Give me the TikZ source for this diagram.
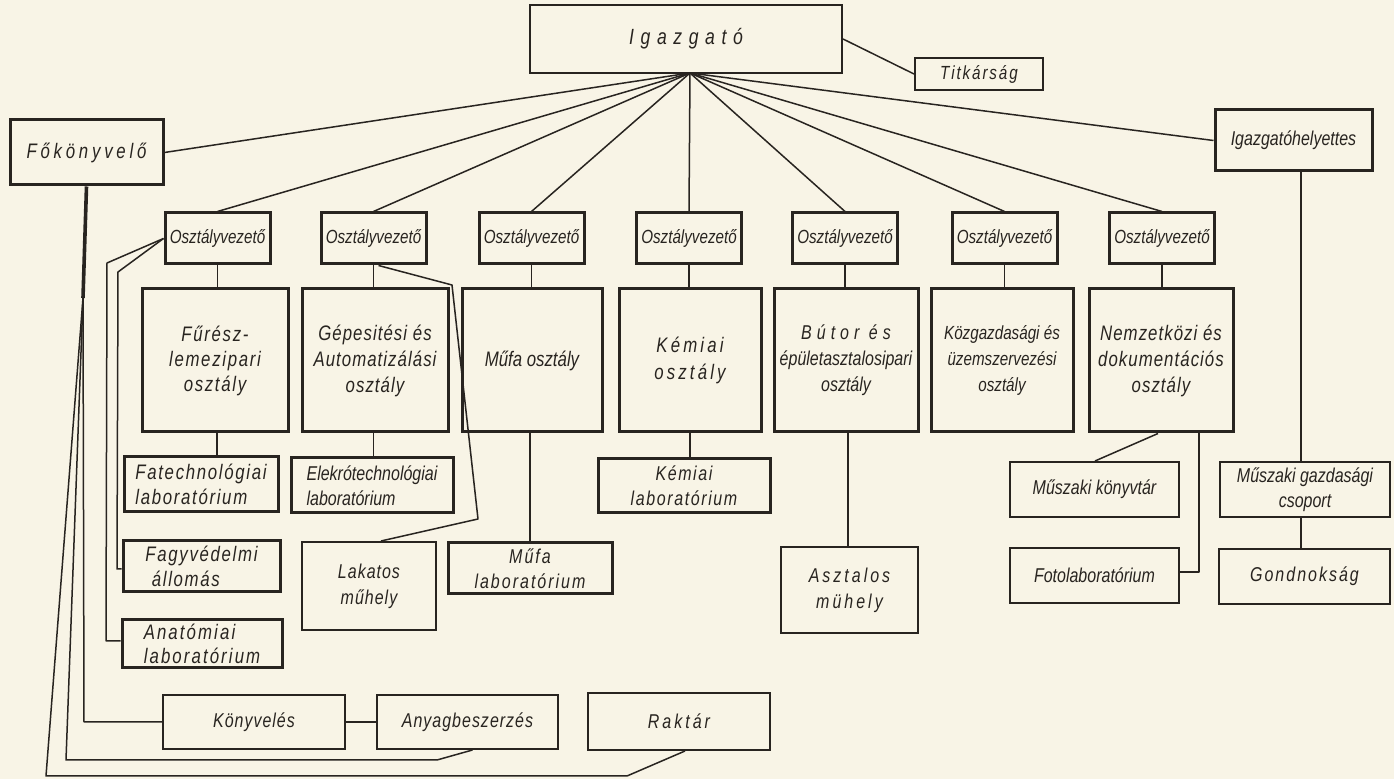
\documentclass[tikz,border=0pt]{standalone}
\usepackage{fontspec}
\setmainfont{Liberation Sans}[FakeStretch=0.8]
\usetikzlibrary{calc}
\definecolor{paper}{RGB}{248,244,230}
\definecolor{ink}{RGB}{40,36,32}
\newcommand{\lsp}[1]{\addfontfeature{LetterSpace=#1}}
\tikzset{
  conn/.style={draw=ink, line width=0.75pt, line join=round},
  boxA/.style={draw=ink, line width=1.5pt, inner sep=1pt, align=center, text=ink, font=\itshape\fontsize{10}{12.5}\selectfont},
  boxB/.style={boxA, line width=1pt},
  ovbox/.style={boxA, inner sep=0.5pt, minimum width=52.5pt, minimum height=25.5pt, font=\itshape\fontsize{9.5}{11}\selectfont},
  deptbox/.style={boxA, minimum height=71.5pt, font=\itshape\fontsize{10.5}{13}\selectfont},
}
\begin{document}
\begin{tikzpicture}[x=0.5pt,y=-0.5pt]
\useasboundingbox (0,0) rectangle (1394,779);
\fill[paper] (0,0) rectangle (1394,779);

% top level
\node[boxB, minimum width=156pt, minimum height=34pt, font=\itshape\fontsize{11}{13}\selectfont\lsp{30}] (igaz) at (686,39) {Igazgató};
\node[boxB, minimum width=64pt, minimum height=16pt, font=\itshape\fontsize{9.5}{11}\selectfont\lsp{10}] (titk) at (979,74) {Titkárság};
\node[boxA, minimum width=76.5pt, minimum height=32.5pt, font=\itshape\fontsize{10.5}{12}\selectfont\lsp{18}] (fokony) at (86.5,152.5) {Főkönyvelő};
\node[boxA, minimum width=78.5pt, minimum height=30.5pt] (ighely) at (1293.5,140.5) {Igazgatóhelyettes};

% Osztályvezető row
\node[ovbox] (ov1) at (217.5,238.5) {Osztályvezető};
\node[ovbox] (ov2) at (373.5,238.5) {Osztályvezető};
\node[ovbox] (ov3) at (531.5,238.5) {Osztályvezető};
\node[ovbox] (ov4) at (689,238.5) {Osztályvezető};
\node[ovbox] (ov5) at (845,238.5) {Osztályvezető};
\node[ovbox] (ov6) at (1004.5,238.5) {Osztályvezető};
\node[ovbox] (ov7) at (1162,238.5) {Osztályvezető};

% departments
\node[deptbox, minimum width=73pt, font=\itshape\fontsize{10.5}{12.5}\selectfont\lsp{8}] (d1) at (215,360.5) {Fűrész-\\lemezipari\\osztály};
\node[deptbox, minimum width=73pt, font=\itshape\fontsize{10.5}{13}\selectfont\lsp{5}] (d2) at (375,360.5) {Gépesitési és\\Automatizálási\\osztály};
\node[deptbox, minimum width=70pt] (d3) at (532,360.5) {Műfa osztály};
\node[deptbox, minimum width=71pt, font=\itshape\fontsize{10.5}{13.5}\selectfont\lsp{15}] (d4) at (690,360.5) {Kémiai\\osztály};
\node[deptbox, minimum width=72pt, font=\itshape\fontsize{10}{13}\selectfont] (d5) at (846,360.5) {{\lsp{25}Bútor és}\\épületasztalosipari\\osztály};
\node[deptbox, minimum width=71pt, font=\itshape\fontsize{9.5}{13}\selectfont] (d6) at (1002,360.5) {Közgazdasági és\\üzemszervezési\\osztály};
\node[deptbox, minimum width=72pt, font=\itshape\fontsize{10.5}{13}\selectfont\lsp{5}] (d7) at (1161,360.5) {Nemzetközi és\\dokumentációs\\osztály};

% labs row
\node[boxA, minimum width=77pt, minimum height=27.5pt, align=left, font=\itshape\fontsize{10.5}{12.5}\selectfont\lsp{8}] (fatech) at (201,484.5) {Fatechnológiai\\laboratórium};
\node[boxA, minimum width=81pt, minimum height=27.5pt, align=left, font=\itshape\fontsize{10}{12.5}\selectfont] (elek) at (372,485.5) {Elekrótechnológiai\\laboratórium};
\node[boxA, minimum width=86pt, minimum height=27pt, font=\itshape\fontsize{10}{12.5}\selectfont\lsp{8}] (kemlab) at (684,486) {Kémiai\\laboratórium};
\node[boxB, minimum width=84.5pt, minimum height=27.5pt] (muszkony) at (1094.5,489.5) {Műszaki könyvtár};
\node[boxB, minimum width=85pt, minimum height=27.5pt] (muszgaz) at (1305,489.5) {Műszaki gazdasági\\csoport};

% row 4
\node[boxA, minimum width=78.5pt, minimum height=25.5pt, align=left, font=\itshape\fontsize{10.5}{12.5}\selectfont\lsp{8}] (fagy) at (201.5,566.5) {Fagyvédelmi\\\ állomás};
\node[boxB, minimum width=67pt, minimum height=44pt, font=\itshape\fontsize{10}{13}\selectfont\lsp{5}] (lakatos) at (369,586) {Lakatos\\műhely};
\node[boxA, minimum width=82pt, minimum height=25.5pt, font=\itshape\fontsize{10}{12.5}\selectfont\lsp{10}] (mufalab) at (530,568.5) {Műfa\\laboratórium};
\node[boxB, minimum width=68.5pt, minimum height=43pt, font=\itshape\fontsize{10}{13}\selectfont\lsp{15}] (asztalos) at (849.5,590) {Asztalos\\mühely};
\node[boxB, minimum width=84.5pt, minimum height=27.5pt] (fotolab) at (1094.5,575.5) {Fotolaboratórium};
\node[boxB, minimum width=85.5pt, minimum height=27.5pt, font=\itshape\fontsize{10}{12.5}\selectfont\lsp{10}] (gondnok) at (1304.5,576.5) {Gondnokság};
\node[boxA, minimum width=80pt, minimum height=24pt, align=left, font=\itshape\fontsize{10.5}{12}\selectfont\lsp{10}] (anat) at (202,644) {Anatómiai\\laboratórium};

% bottom row
\node[boxB, minimum width=91pt, minimum height=27pt, font=\itshape\fontsize{10}{12}\selectfont\lsp{5}] (konyv) at (254,722) {Könyvelés};
\node[boxB, minimum width=90.5pt, minimum height=27pt, font=\itshape\fontsize{10}{12}\selectfont\lsp{5}] (anyag) at (467.5,722) {Anyagbeszerzés};
\node[boxB, minimum width=91pt, minimum height=28.5pt, font=\itshape\fontsize{10}{12}\selectfont\lsp{15}] (raktar) at (679,721.5) {Raktár};

% fan from Igazgató
\coordinate (apex) at (690,73);
\foreach \n in {ov1,ov2,ov3,ov4,ov5,ov6,ov7} \draw[conn] (apex) -- (\n.north);
\draw[conn] (apex) -- (fokony.east);
\draw[conn] (apex) -- (ighely.west);
\draw[conn] (igaz.east) -- (titk.west);

% Osztályvezető to departments
\foreach \i in {1,...,7} \draw[conn] (ov\i.south) -- (ov\i.south |- d\i.north);

% departments to labs
\draw[conn] (fatech.north -| d1.south) ++(2,0) coordinate (t1) (d1.south -| t1) -- (t1);
\draw[conn] (d2.south -| ov2.south) -- (elek.north -| ov2.south);
\draw[conn] (d3.south -| mufalab.north) -- (mufalab.north);
\draw[conn] (d4.south) -- (kemlab.north -| d4.south);
\draw[conn] (d5.south -| 848,0) -- (asztalos.north -| 848,0);

% Nemzetközi
\draw[conn] ($(d7.south)+(-3,0)$) -- ($(muszkony.north)+(0.5,0)$);
\draw[conn] (d7.south -| 1199,0) -- (1199,572) -- (fotolab.east |- 0,572);

% Igazgatóhelyettes
\draw[conn] (ighely.south -| 1301,0) -- (muszgaz.north -| 1301,0);
\draw[conn] (muszgaz.south -| 1301,0) -- (gondnok.north -| 1301,0);

% Osztályvezető 1 branches
\draw[conn] (ov1.west) -- (107,263) -- (106,641) -- (anat.west |- 0,641);
\draw[conn] (ov1.west) -- (118,272) -- (117,569) -- (fagy.west |- 0,569);

% Osztályvezető 2 to Lakatos
\draw[conn] ($(ov2.south)+(5,0)$) -- (452,285) -- (478,519) -- ($(lakatos.north)+(12,0)$);

% Főkönyvelő branches
\coordinate (fk1) at (83,298);
\draw[ink, line width=1.8pt] (fokony.south) -- (fk1);
\draw[conn] (fk1) -- (84,722) -- (konyv.west);
\draw[conn] (fk1) -- (66,760) -- (437,760) -- ($(anyag.south)+(5,0)$);
\draw[conn] (fk1) -- (46,776) -- (627,776) -- ($(raktar.south)+(6,0)$);
\draw[conn] (konyv.east) -- (anyag.west);
\end{tikzpicture}
\end{document}
